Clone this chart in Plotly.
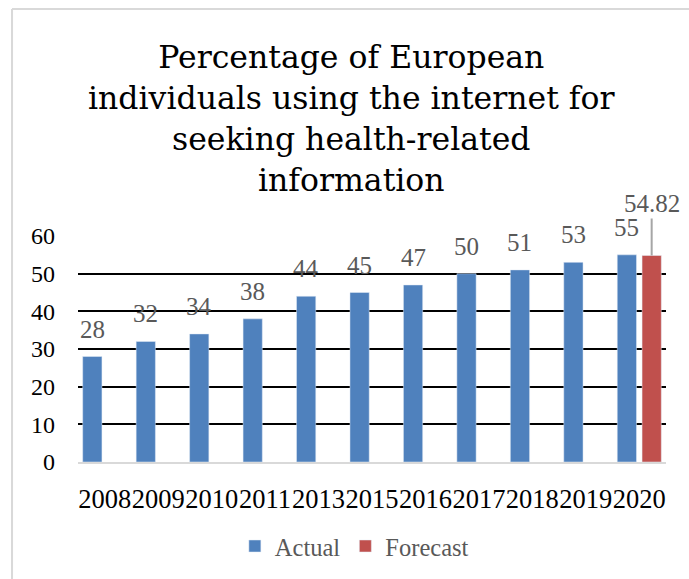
import plotly.graph_objects as go

# Survey years and shares (%) of individuals searching for health information online
years = ["2008", "2009", "2010", "2011", "2013", "2015", "2016", "2017", "2018", "2019", "2020"]
actual = [28, 32, 34, 38, 44, 45, 47, 50, 51, 53, 55]
forecast = [None, None, None, None, None, None, None, None, None, None, 54.82]

y_ticks = [0, 10, 20, 30, 40, 50, 60]

BLUE = "#4f81bd"
RED = "#c0504d"
FONT = "Liberation Serif"
TITLE_FONT = "DejaVu Serif"

BARGAP = 0.072
BARGROUPGAP = 0.224
slot = (1 - BARGAP) / 2          # width of one series slot within a category
actual_off = -slot / 2           # centre offset of the Actual bar
forecast_off = slot / 2          # centre offset of the Forecast bar

fig = go.Figure()
fig.add_trace(go.Bar(name="Actual", x=years, y=actual, marker_color=BLUE))
fig.add_trace(go.Bar(name="Forecast", x=years, y=forecast, marker_color=RED))

annotations = [
    # chart title
    dict(
        text="Percentage of European<br>individuals using the internet for<br>seeking health-related<br>information",
        xref="paper", yref="paper", x=0.465, y=1.518, xanchor="center", yanchor="middle",
        showarrow=False, align="center",
        font=dict(family=TITLE_FONT, size=31.5, color="black"),
    )
]
# value labels above the Actual bars
for i, v in enumerate(actual):
    annotations.append(dict(
        x=i + actual_off, y=v, xref="x", yref="y",
        text=str(v), showarrow=False, yanchor="bottom", yshift=12,
        font=dict(family=FONT, size=25, color="#595959"),
    ))
# forecast label with leader line
for i, v in enumerate(forecast):
    if v is None:
        continue
    annotations.append(dict(
        x=i + forecast_off, y=v, xref="x", yref="y",
        text=f"{v:.2f}", showarrow=True, arrowhead=0, arrowwidth=2,
        arrowcolor="#a6a6a6", ax=0, ay=-52, standoff=0,
        font=dict(family=FONT, size=25, color="#595959"),
    ))

fig.update_layout(
    width=689, height=579,
    margin=dict(l=78, r=23, t=236, b=116),
    paper_bgcolor="white", plot_bgcolor="white",
    barmode="group", bargap=BARGAP, bargroupgap=BARGROUPGAP,
    font=dict(family=FONT),
    showlegend=True,
    legend=dict(
        orientation="h", x=0.47, xanchor="center", y=-0.366, yanchor="middle",
        font=dict(family=FONT, size=24.5, color="#595959"),
        traceorder="normal",
    ),
    annotations=annotations,
    shapes=[
        # chart-area frame (left and top edges)
        dict(type="line", xref="paper", yref="paper", x0=-0.1122, x1=-0.1122,
             y0=2.004, y1=-0.52, line=dict(color="#d9d9d9", width=2)),
        dict(type="line", xref="paper", yref="paper", x0=-0.1122, x1=1.05,
             y0=2.004, y1=2.004, line=dict(color="#d9d9d9", width=2)),
    ],
)

fig.update_xaxes(
    type="category", range=[-0.5, len(years) - 0.5], autorange=False,
    showgrid=False, showline=True, linecolor="#d9d9d9", linewidth=2,
    ticks="", tickangle=0, ticklabelstandoff=12,
    tickfont=dict(family=FONT, size=26.5, color="black"),
)
fig.update_yaxes(
    range=[0, 60], tickvals=y_ticks, showgrid=True, gridcolor="black", gridwidth=1.6,
    zeroline=False, showline=False, ticks="", ticklabelstandoff=22,
    tickfont=dict(family=FONT, size=24, color="black"),
)

fig.write_html("out.html")
